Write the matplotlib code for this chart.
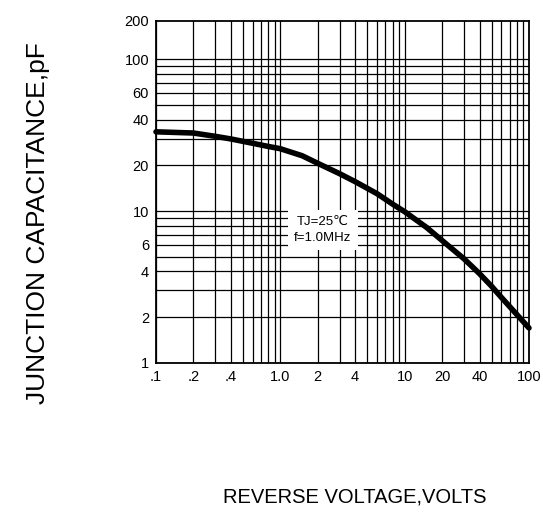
import numpy as np
import matplotlib
matplotlib.use('Agg')
from matplotlib import pyplot as plt
from matplotlib.ticker import FixedLocator, NullLocator

plt.rcParams['font.family'] = ['Liberation Sans', 'DejaVu Sans']

# reverse voltage (V) vs junction capacitance (pF)
voltage = [0.1, 0.2, 0.3, 0.4, 0.6, 0.8, 1.0, 1.5, 2, 3, 4, 6, 8, 10, 15, 20, 30, 40, 50,
           60, 80, 100]
capacitance = [33.2, 32.6, 31.0, 29.8, 27.9, 26.6, 25.7, 23.1, 20.6, 17.6, 15.6, 13.0,
               11.1, 9.9, 7.8, 6.4, 4.85, 3.87, 3.2, 2.7, 2.08, 1.7]

x_ticks = [0.1, 0.2, 0.4, 1, 2, 4, 10, 20, 40, 100]
x_ticklabels = ['.1', '.2', '.4', '1.0', '2', '4', '10', '20', '40', '100']
y_ticks = [1, 2, 4, 6, 10, 20, 40, 60, 100, 178]
y_ticklabels = ['1', '2', '4', '6', '10', '20', '40', '60', '100', '200']

x_grid = [m * 10.0 ** e for e in (-1, 0, 1) for m in range(1, 10)]
y_grid = [m * 10.0 ** e for e in (0, 1) for m in range(1, 10)] + [100]

fig = plt.figure(figsize=(5.43, 5.13), dpi=100)
ax = fig.add_axes([0.2873, 0.2924, 0.6869, 0.6667])
ax.set_xscale('log')
ax.set_yscale('log')
ax.set_xlim(0.1, 100)
ax.set_ylim(1, 178)

# grid
for gx in x_grid:
    ax.axvline(gx, color='black', lw=0.9, zorder=1)
for gy in y_grid:
    ax.axhline(gy, color='black', lw=0.9, zorder=1)

ax.plot(voltage, capacitance, color='black', lw=4, solid_capstyle='round',
        solid_joinstyle='round', zorder=4, clip_on=False)

ax.text(2.2, 7.5, 'TJ=25\u2103\nf=1.0MHz', ha='center', va='center', fontsize=9.5,
        linespacing=1.5, zorder=3,
        bbox=dict(boxstyle='square,pad=0.45', facecolor='white', edgecolor='none'))

ax.xaxis.set_major_locator(FixedLocator(x_ticks))
ax.xaxis.set_minor_locator(NullLocator())
ax.set_xticklabels(x_ticklabels)
ax.yaxis.set_major_locator(FixedLocator(y_ticks))
ax.yaxis.set_minor_locator(NullLocator())
ax.set_yticklabels(y_ticklabels)
ax.tick_params(length=0, labelsize=10.5, pad=5)

for sp in ax.spines.values():
    sp.set_linewidth(1.3)
    sp.set_zorder(5)

fig.text(0.0700, 0.565, 'JUNCTION CAPACITANCE,pF', rotation=90, ha='center',
         va='center', fontsize=19)
fig.text(0.654, 0.031, 'REVERSE VOLTAGE,VOLTS', ha='center', va='center', fontsize=14.5)

fig.savefig('out.png', dpi=100, facecolor='white')
